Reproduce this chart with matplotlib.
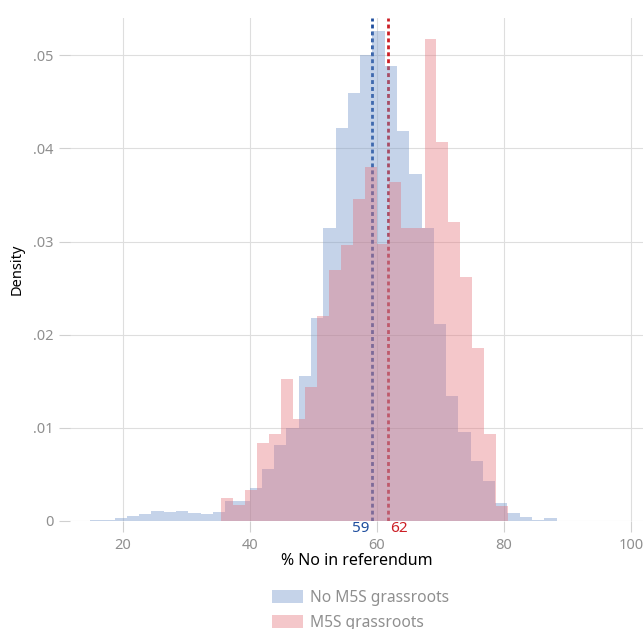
import numpy as np
import matplotlib.pyplot as plt
from matplotlib.patches import Patch

plt.rcParams['font.family'] = ['Noto Sans', 'DejaVu Sans']

# Blue histogram: no M5S grassroots (38 bins)
blue_start, blue_width = 14.8, 1.934
blue_density = [0.00015, 0.00015, 0.0003, 0.0005, 0.0007, 0.0011, 0.0010, 0.0011,
                0.0009, 0.0007, 0.0010, 0.0021, 0.0021, 0.0035, 0.0056, 0.0082,
                0.0100, 0.0156, 0.0218, 0.0315, 0.0422, 0.0459, 0.0500, 0.0526,
                0.0488, 0.0419, 0.0373, 0.0315, 0.0212, 0.0134, 0.0096, 0.0064,
                0.0043, 0.0019, 0.0009, 0.0004, 0.0001, 0.0003]

# Red histogram: M5S grassroots (24 bins)
red_start, red_width = 35.4, 1.8875
red_density = [0.0025, 0.0017, 0.0033, 0.0084, 0.0093, 0.0152, 0.0109, 0.0144,
               0.0220, 0.0270, 0.0296, 0.0346, 0.0380, 0.0297, 0.0364, 0.0315,
               0.0315, 0.0517, 0.0407, 0.0321, 0.0262, 0.0186, 0.0093, 0.0016]

blue_mean, red_mean = 59.2, 61.7
mean_labels = ["59", "62"]
series_labels = ["No M5S grassroots", "M5S grassroots"]
xticks = [20, 40, 60, 80, 100]
yticks = [0, 0.01, 0.02, 0.03, 0.04, 0.05]
ytick_labels = ["0", ".01", ".02", ".03", ".04", ".05"]

blue_edges = blue_start + blue_width * np.arange(len(blue_density) + 1)
red_edges = red_start + red_width * np.arange(len(red_density) + 1)

blue_col = (112/255, 147/255, 200/255)
red_col = (228/255, 110/255, 118/255)
grey = '#8f8f8f'

fig = plt.figure(figsize=(6.43, 6.29), dpi=100)
ax = fig.add_axes([70/643, 1 - 521/629, 1 - 70/643, (521 - 18)/629])

# mean lines sit underneath the bars
ax.axvline(blue_mean, color='#1f4e9e', lw=2, ls=(0, (1.4, 1.1)), zorder=1)
ax.axvline(red_mean, color='#cc1f26', lw=2, ls=(0, (1.4, 1.1)), zorder=1)

ax.stairs(blue_density, blue_edges, fill=True, color=blue_col, alpha=0.4, zorder=2, lw=0)
ax.stairs(red_density, red_edges, fill=True, color=red_col, alpha=0.38, zorder=3, lw=0)

ax.set_xlim(11.65, 101.9)
ax.set_ylim(0, 0.054)
ax.set_xticks(xticks)
ax.set_yticks(yticks)
ax.set_yticklabels(ytick_labels)
ax.grid(True, color='#dedede', lw=0.8, zorder=0)
ax.set_axisbelow(True)
for s in ax.spines.values():
    s.set_visible(False)
ax.tick_params(colors='#d0d0d0', labelcolor=grey, labelsize=10.5, length=8, width=0.8, pad=4)

# mean value labels under the axis
ax.text(blue_mean - 0.4, 0.0, mean_labels[0], color='#1f4e9e', fontsize=11,
        ha='right', va='top', fontweight='medium')
ax.text(red_mean + 0.4, 0.0, mean_labels[1], color='#cc1f26', fontsize=11,
        ha='left', va='top', fontweight='medium')

ax.set_xlabel('% No in referendum', fontsize=11.5, color='black', labelpad=0, fontweight='medium')
ax.set_ylabel('Density', fontsize=10.5, color='black', labelpad=6, fontweight='medium')

handles = [Patch(facecolor=blue_col, alpha=0.4), Patch(facecolor=red_col, alpha=0.38)]
fig.legend(handles, series_labels, loc='upper left', bbox_to_anchor=(272/643, 1 - 590/629),
           frameon=False, fontsize=11.2, labelcolor=grey, handlelength=2.0, handleheight=0.95,
           handletextpad=0.45, labelspacing=0.55, borderpad=0, borderaxespad=0)

fig.savefig('out.png', dpi=100)
